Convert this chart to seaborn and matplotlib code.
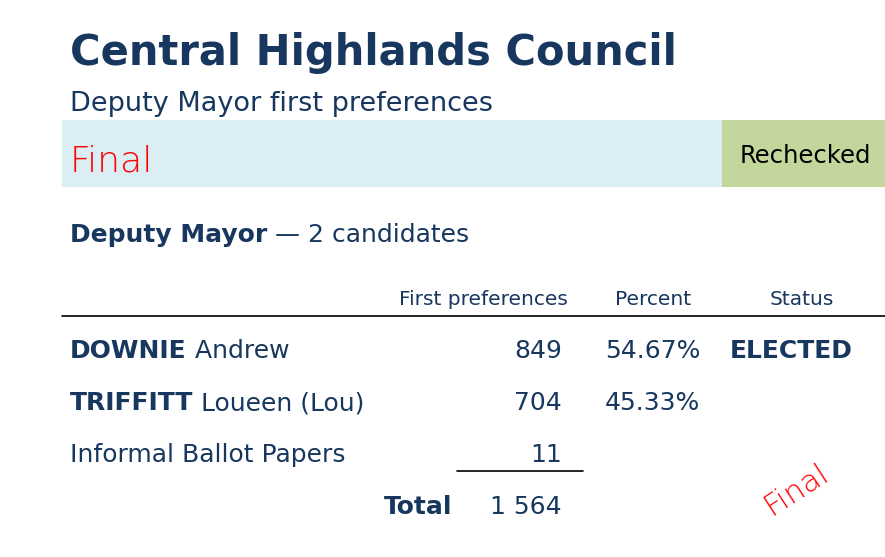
import matplotlib
matplotlib.use("Agg")
import matplotlib.pyplot as plt
import seaborn as sns
from matplotlib.patches import Rectangle

candidates_last = ["DOWNIE", "TRIFFITT"]
candidates_first = ["Andrew", "Loueen (Lou)"]
votes = [849, 704]
percents = ["54.67%", "45.33%"]
statuses = ["ELECTED", ""]
informal = 11
total = "1 564"

NAVY = "#17375E"
W, H = 885, 557

sns.set_theme(style="white")
plt.rcParams["font.family"] = ["DejaVu Sans"]

fig = plt.figure(figsize=(W / 100, H / 100), dpi=100)
ax = fig.add_axes([0, 0, 1, 1])
ax.set_xlim(0, W)
ax.set_ylim(H, 0)
ax.axis("off")
renderer = fig.canvas.get_renderer()


def txt(x, y, s, **kw):
    kw.setdefault("va", "baseline")
    kw.setdefault("color", NAVY)
    return ax.text(x, y, s, **kw)


def pair(x, y, bold, rest, size):
    t = txt(x, y, bold, fontsize=size, fontweight="bold")
    x1 = t.get_window_extent(renderer).x1  # pixels == data units here
    txt(x1, y, rest, fontsize=size)


txt(70, 65, "Central Highlands Council", fontsize=30, fontweight="bold")
txt(70, 111, "Deputy Mayor first preferences", fontsize=19.5)

ax.add_patch(Rectangle((62, 120), 660, 67, color="#DAEEF3", lw=0))
ax.add_patch(Rectangle((722, 120), 163, 67, color="#C3D69B", lw=0))
txt(70, 171, "Final", fontsize=26, color="red", fontweight="light")
txt(740, 163, "Rechecked", fontsize=17.5, color="black")

pair(70, 242, "Deputy Mayor", " — 2 candidates", 18)

txt(483, 305, "First preferences", fontsize=14.5, ha="center")
txt(653, 305, "Percent", fontsize=14.5, ha="center")
txt(802, 305, "Status", fontsize=14.5, ha="center")
ax.plot([62, 885], [316, 316], color="black", lw=1.2)

ys = [358, 410]
for y, last, first, v, p, s in zip(ys, candidates_last, candidates_first, votes, percents, statuses):
    pair(70, y, last, " " + first, 18)
    txt(562, y, f"{v}", fontsize=18, ha="right")
    txt(605, y, p, fontsize=18)
    if s:
        txt(730, y, s, fontsize=18, fontweight="bold")

txt(70, 462, "Informal Ballot Papers", fontsize=18)
txt(562, 462, f"{informal}", fontsize=18, ha="right")
ax.plot([457, 583], [471, 471], color="black", lw=1.2)
txt(452, 514, "Total", fontsize=18, fontweight="bold", ha="right")
txt(562, 514, total, fontsize=18, ha="right")

txt(796, 490, "Final", fontsize=22, color="red", ha="center", va="center", rotation=33,
    fontweight="light")

fig.savefig("out.png", dpi=100)
